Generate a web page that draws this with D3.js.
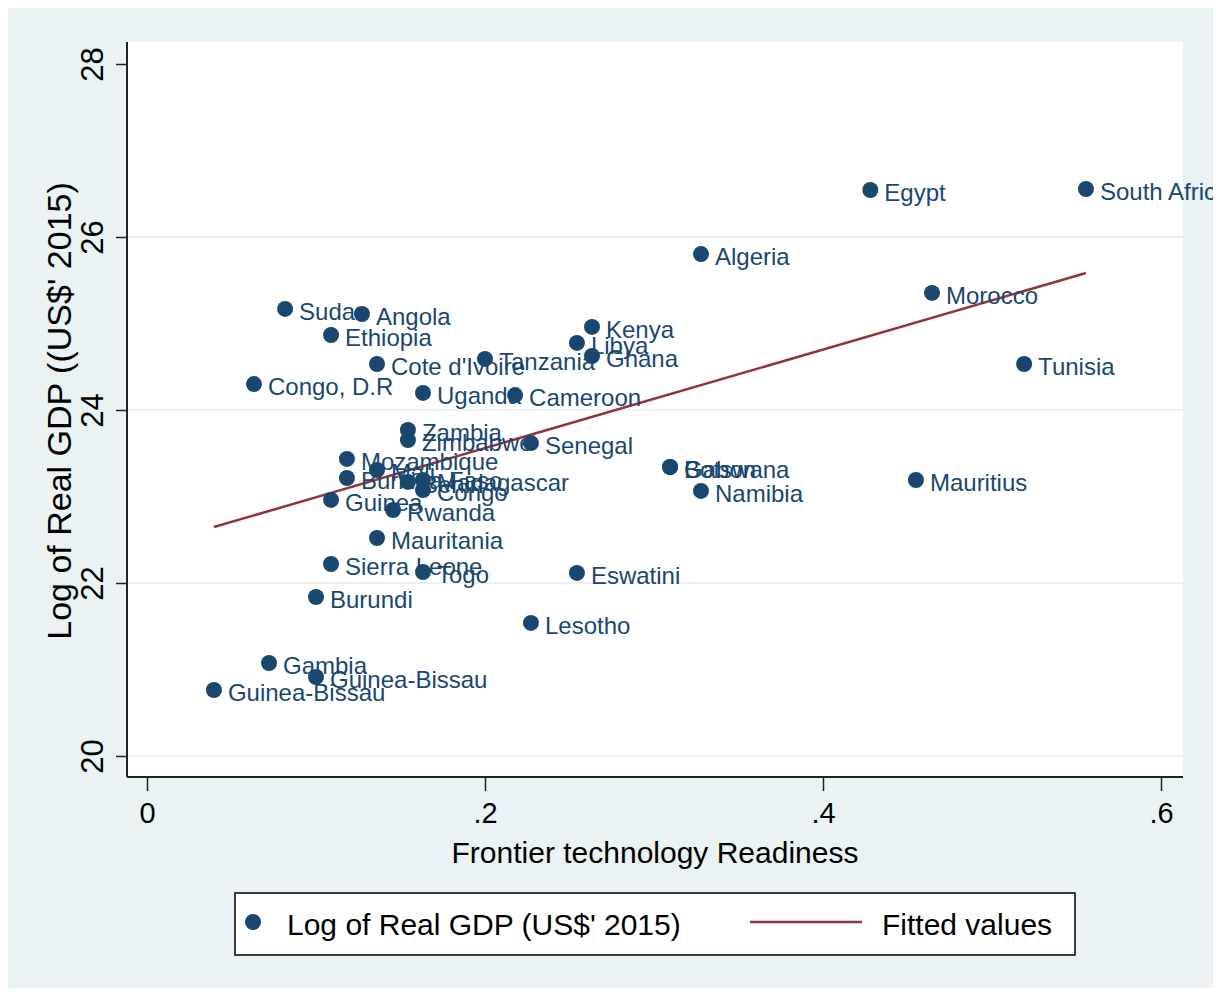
<!DOCTYPE html>
<html>
<head>
<meta charset="utf-8">
<script src="https://cdn.jsdelivr.net/npm/d3@7"></script>
<style>
  body { margin: 0; background: #fff; }
  text { font-family: "Liberation Sans", Arial, Helvetica, sans-serif; }
</style>
</head>
<body>
<div id="chart"></div>
<script>
// country labels, frontier technology readiness (x), log of real GDP (y)
const countries = ["Egypt", "South Africa", "Algeria", "Morocco", "Tunisia", "Mauritius",
  "Sudan", "Angola", "Ethiopia", "Cote d'Ivoire", "Congo, D.R", "Uganda", "Tanzania",
  "Cameroon", "Kenya", "Libya", "Ghana", "Zambia", "Zimbabwe", "Senegal", "Mozambique",
  "Mali", "Burkina Faso", "Benin", "Madagascar", "Congo", "Guinea", "Rwanda", "Mauritania",
  "Sierra Leone", "Togo", "Eswatini", "Burundi", "Lesotho", "Gambia", "Guinea-Bissau",
  "Guinea-Bissau", "Gabon", "Botswana", "Namibia"]
const readiness = [0.428, 0.5556, 0.3278, 0.4645, 0.519, 0.455,
  0.0817, 0.1272, 0.1089, 0.1361, 0.0633, 0.1633, 0.2,
  0.2178, 0.2633, 0.2544, 0.2633, 0.1544, 0.1544, 0.2272, 0.1183,
  0.1361, 0.1183, 0.1544, 0.1633, 0.1633, 0.1089, 0.1456, 0.1361,
  0.1089, 0.1633, 0.2544, 0.1, 0.2272, 0.0722, 0.1,
  0.0396, 0.3095, 0.3095, 0.3278]
const lngdp = [26.543, 26.555, 25.803, 25.353, 24.532, 23.191,
  25.168, 25.110, 24.867, 24.532, 24.300, 24.197, 24.590,
  24.173, 24.960, 24.775, 24.624, 23.769, 23.653, 23.618, 23.434,
  23.306, 23.214, 23.168, 23.191, 23.075, 22.960, 22.844, 22.520,
  22.220, 22.127, 22.116, 21.838, 21.538, 21.075, 20.913,
  20.763, 23.341, 23.341, 23.064]

// fitted values line (end points)
const fitX = [0.0396, 0.5556]
const fitY = [22.647, 25.584]

const xTicks = [0, 0.2, 0.4, 0.6]
const xTickLabels = ["0", ".2", ".4", ".6"]
const yTicks = [20, 22, 24, 26, 28]
const yGrid = [20, 22, 24, 26]

const W = 1221, H = 996
const bg = "#eaf2f3", navy = "#1a476f", maroon = "#90353b"
const plot = {left: 127, right: 1183, top: 42, bottom: 777}

const svg = d3.select("#chart").append("svg")
  .attr("width", W)
  .attr("height", H)

svg.append("rect")
  .attr("x", 8).attr("y", 8)
  .attr("width", 1205).attr("height", 980)
  .attr("fill", bg)

svg.append("defs").append("clipPath").attr("id", "outer")
  .append("rect")
  .attr("x", 8).attr("y", 8)
  .attr("width", 1205).attr("height", 980)

svg.append("rect")
  .attr("x", plot.left).attr("y", plot.top)
  .attr("width", plot.right - plot.left).attr("height", plot.bottom - plot.top)
  .attr("fill", "#fff")

const x = d3.scaleLinear()
  .domain([0, 0.6])
  .range([147, 1161])
const y = d3.scaleLinear()
  .domain([20, 28])
  .range([756, 64])

// grid lines
svg.append("g")
  .selectAll("line")
  .data(yGrid)
  .join("line")
    .attr("x1", plot.left).attr("x2", plot.right)
    .attr("y1", d => y(d)).attr("y2", d => y(d))
    .attr("stroke", bg)
    .attr("stroke-width", 2)

// x axis
const xAxis = svg.append("g")
  .attr("transform", `translate(0, ${plot.bottom})`)
  .call(d3.axisBottom(x).tickValues(xTicks).tickFormat((d, i) => xTickLabels[i]).tickSize(14).tickPadding(11))
xAxis.select(".domain").remove()
xAxis.selectAll("line").attr("stroke", "#222").attr("stroke-width", 1.5)
xAxis.selectAll("text")
  .attr("fill", "#000")
  .style("font-size", "29px")
  .style("font-family", "Liberation Sans, Arial, sans-serif")

svg.append("line")
  .attr("x1", plot.left).attr("x2", plot.right)
  .attr("y1", plot.bottom).attr("y2", plot.bottom)
  .attr("stroke", "#222").attr("stroke-width", 2)

// y axis
const yAxis = svg.append("g")
  .attr("transform", `translate(${plot.left}, 0)`)
  .call(d3.axisLeft(y).tickValues(yTicks).tickSize(11).tickFormat(d3.format("d")))
yAxis.select(".domain").remove()
yAxis.selectAll("line").attr("stroke", "#222").attr("stroke-width", 1.5)
yAxis.selectAll("text")
  .attr("x", null).attr("dy", null)
  .attr("fill", "#000")
  .attr("text-anchor", "middle")
  .attr("transform", "translate(-24, 0) rotate(-90)")
  .style("font-size", "31px")
  .style("font-family", "Liberation Sans, Arial, sans-serif")

svg.append("line")
  .attr("x1", plot.left).attr("x2", plot.left)
  .attr("y1", plot.top).attr("y2", plot.bottom)
  .attr("stroke", "#222").attr("stroke-width", 2)

// axis titles
svg.append("text")
  .attr("x", 655).attr("y", 863)
  .attr("text-anchor", "middle")
  .style("font-size", "30px")
  .text("Frontier technology Readiness")

svg.append("text")
  .attr("transform", "translate(71, 411) rotate(-90)")
  .attr("text-anchor", "middle")
  .style("font-size", "34px")
  .text("Log of Real GDP ((US$' 2015)")

// fitted line
svg.append("line")
  .attr("x1", x(fitX[0])).attr("y1", y(fitY[0]))
  .attr("x2", x(fitX[1])).attr("y2", y(fitY[1]))
  .attr("stroke", maroon)
  .attr("stroke-width", 2.5)

// points and labels
const pts = svg.append("g").attr("clip-path", "url(#outer)")
pts.selectAll("circle")
  .data(countries)
  .join("circle")
    .attr("cx", (d, i) => x(readiness[i]))
    .attr("cy", (d, i) => y(lngdp[i]))
    .attr("r", 8)
    .attr("fill", navy)

pts.selectAll("text")
  .data(countries)
  .join("text")
    .attr("x", (d, i) => x(readiness[i]) + 14)
    .attr("y", (d, i) => y(lngdp[i]) + 11)
    .attr("fill", navy)
    .style("font-size", "24px")
    .text(d => d)

// legend
const lg = svg.append("g")
lg.append("rect")
  .attr("x", 235).attr("y", 893)
  .attr("width", 840).attr("height", 62)
  .attr("fill", "#fff")
  .attr("stroke", "#000")
  .attr("stroke-width", 1.5)
lg.append("circle")
  .attr("cx", 253).attr("cy", 922).attr("r", 8)
  .attr("fill", navy)
lg.append("text")
  .attr("x", 287).attr("y", 935)
  .style("font-size", "30px")
  .text("Log of Real GDP (US$' 2015)")
lg.append("line")
  .attr("x1", 750).attr("x2", 862)
  .attr("y1", 922).attr("y2", 922)
  .attr("stroke", maroon).attr("stroke-width", 2.5)
lg.append("text")
  .attr("x", 882).attr("y", 935)
  .style("font-size", "30px")
  .text("Fitted values")
</script>
</body>
</html>
